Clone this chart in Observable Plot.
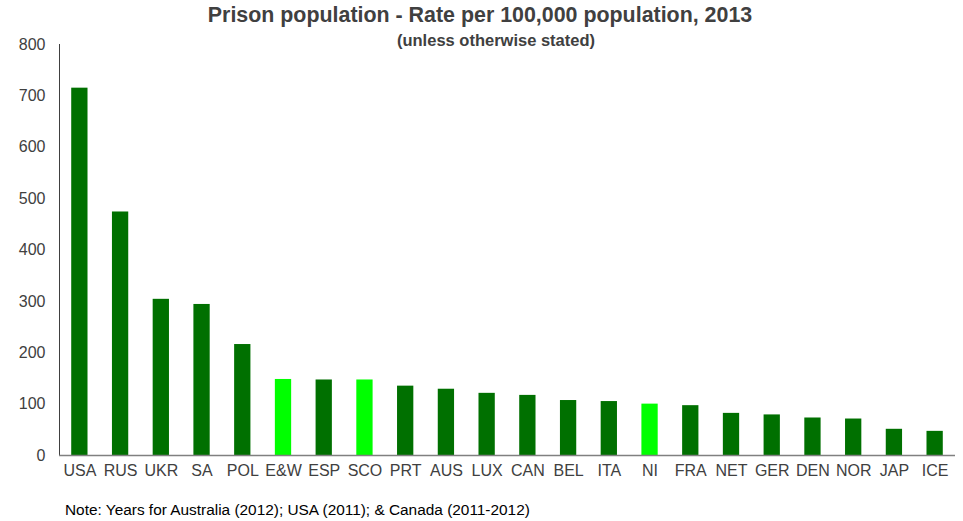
<!DOCTYPE html>
<html>
<head>
<meta charset="utf-8">
<script src="https://cdn.jsdelivr.net/npm/d3@7"></script>
<script src="https://cdn.jsdelivr.net/npm/@observablehq/plot@0.6"></script>
<style>
  html, body { margin: 0; padding: 0; background: #fff; }
  #wrap { position: relative; width: 963px; height: 521px; font-family: "Liberation Sans", Arial, sans-serif; }
  #title { position: absolute; left: 0; width: 960px; top: 3px; text-align: center; font-weight: bold; font-size: 21.4px; color: #404040; }
  #subtitle { position: absolute; left: 0; width: 992px; top: 31px; text-align: center; font-weight: bold; font-size: 16.5px; color: #404040; }
  #note { position: absolute; left: 65px; top: 501px; font-size: 15.4px; color: #000; }
  #chart { position: absolute; left: 0; top: 0; }
  #chart svg g[aria-label="x-axis tick label"] text,
  #chart svg g[aria-label="y-axis tick label"] text { font-size: 16px; }
</style>
</head>
<body>
<div id="wrap">
  <div id="chart"></div>
  <div id="title">Prison population - Rate per 100,000 population, 2013</div>
  <div id="subtitle">(unless otherwise stated)</div>
  <div id="note">Note: Years for Australia (2012); USA (2011); &amp; Canada (2011-2012)</div>
</div>
<script>
const countries = ["USA","RUS","UKR","SA","POL","E&W","ESP","SCO","PRT","AUS","LUX","CAN","BEL","ITA","NI","FRA","NET","GER","DEN","NOR","JAP","ICE"];
const rates = [715, 474, 304, 294, 216, 148, 147, 147, 135, 129, 121, 117, 107, 105, 100, 97, 82, 79, 73, 71, 51, 47];
const ukNations = ["E&W", "SCO", "NI"];
const yTicks = [0, 100, 200, 300, 400, 500, 600, 700, 800];

const data = countries.map((c, i) => ({country: c, rate: rates[i], uk: ukNations.includes(c)}));

const chart = Plot.plot({
  width: 963,
  height: 521,
  marginTop: 44,
  marginBottom: 66,
  marginLeft: 59,
  marginRight: 8,
  style: {fontFamily: "Liberation Sans, Arial, sans-serif", fontSize: "16px", color: "#404040", background: "transparent"},
  x: {domain: countries, paddingInner: 0.6, paddingOuter: 0.3, align: 0.5, round: false, tickSize: 0, tickPadding: 9, label: null},
  y: {domain: [0, 800], ticks: yTicks, tickSize: 0, tickPadding: 14, label: null, line: true},
  color: {type: "identity"},
  marks: [
    Plot.barY(data, {x: "country", y: "rate", fill: d => d.uk ? "#00ff00" : "#007000"}),
    Plot.ruleY([0], {stroke: "#808080", strokeWidth: 1.5})
  ]
});
document.getElementById("chart").appendChild(chart);
</script>
</body>
</html>
